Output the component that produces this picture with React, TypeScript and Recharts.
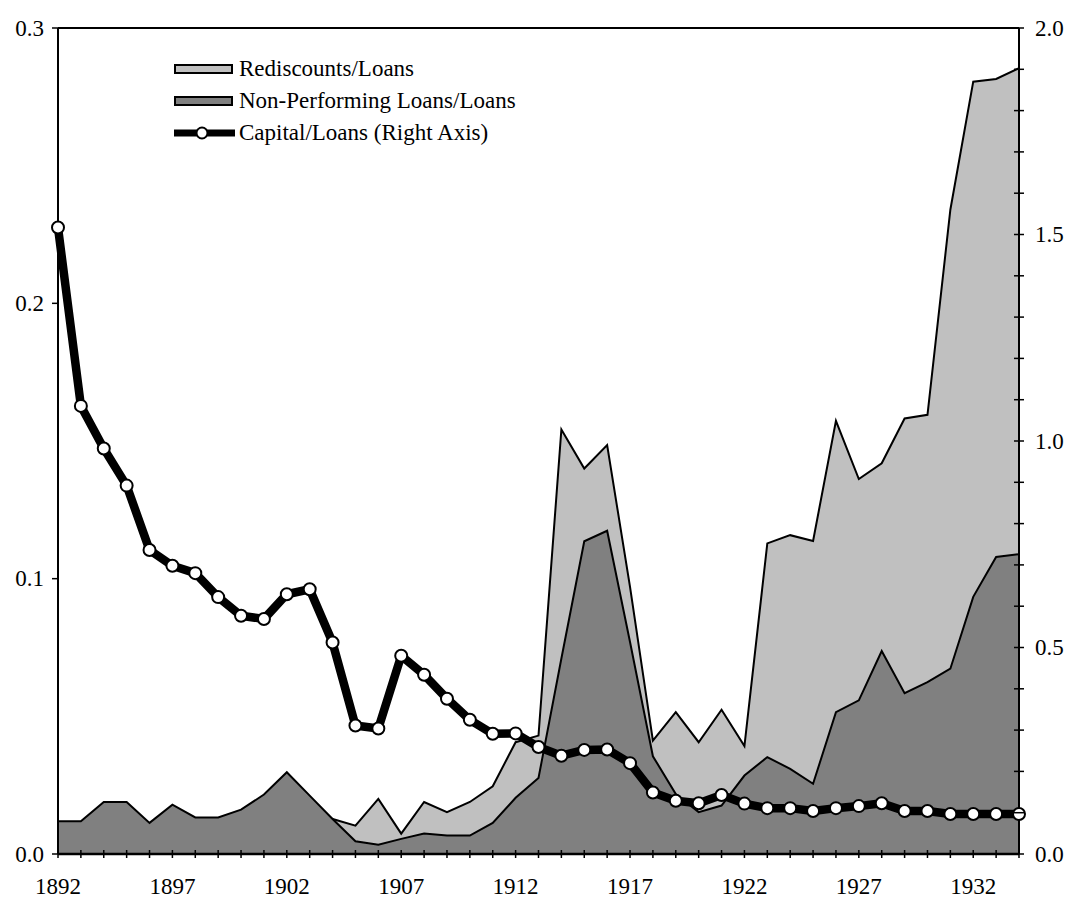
import { Area, ComposedChart, Legend, Line, ReferenceLine, XAxis, YAxis } from "recharts";

const SERIF = '"Liberation Serif", "Times New Roman", serif';

const years = [
  1892, 1893, 1894, 1895, 1896, 1897, 1898, 1899, 1900, 1901, 1902, 1903, 1904, 1905,
  1906, 1907, 1908, 1909, 1910, 1911, 1912, 1913, 1914, 1915, 1916, 1917, 1918, 1919,
  1920, 1921, 1922, 1923, 1924, 1925, 1926, 1927, 1928, 1929, 1930, 1931, 1932, 1933, 1934,
];
const labelYears = [1892, 1897, 1902, 1907, 1912, 1917, 1922, 1927, 1932];

const leftTicks = [0, 0.1, 0.2, 0.3];
const rightTicks = [
  0, 0.1, 0.2, 0.3, 0.4, 0.5, 0.6, 0.7, 0.8, 0.9, 1.0, 1.1, 1.2, 1.3, 1.4, 1.5, 1.6, 1.7,
  1.8, 1.9, 2.0,
];
const rightLabels = [0, 0.5, 1.0, 1.5, 2.0];

// left axis
const rediscounts = [
  0, 0, 0, 0, 0, 0, 0, 0, 0, 0, 0, 0, 0.0127, 0.0103,
  0.02, 0.0074, 0.0189, 0.0152, 0.0189, 0.0246, 0.0406, 0.043, 0.1542, 0.14, 0.1485, 0.097, 0.0412, 0.0515,
  0.0406, 0.0524, 0.0392, 0.1128, 0.1158, 0.1137, 0.1573, 0.1362, 0.1419, 0.1582, 0.1595, 0.234, 0.2805, 0.2815, 0.2854,
];
const nonPerforming = [
  0.0119, 0.0119, 0.0189, 0.0189, 0.0113, 0.0179, 0.0133, 0.0133, 0.0161, 0.0216, 0.0297, 0.0212, 0.0127, 0.0046,
  0.0034, 0.0055, 0.0074, 0.0067, 0.0067, 0.0113, 0.0204, 0.0276, 0.071, 0.1136, 0.1174, 0.077, 0.0355, 0.0218,
  0.0152, 0.0176, 0.0285, 0.0352, 0.0309, 0.0255, 0.0515, 0.0558, 0.0737, 0.0584, 0.0624, 0.0673, 0.0934, 0.1079, 0.1089,
];
// right axis
const capital = [
  1.517, 1.085, 0.982, 0.892, 0.736, 0.698, 0.68, 0.622, 0.577, 0.569, 0.629, 0.641, 0.512, 0.311,
  0.304, 0.48, 0.434, 0.376, 0.325, 0.291, 0.292, 0.259, 0.238, 0.252, 0.253, 0.22, 0.149, 0.129,
  0.123, 0.143, 0.122, 0.111, 0.111, 0.104, 0.111, 0.116, 0.123, 0.104, 0.104, 0.097, 0.097, 0.097, 0.097,
];

const legendLabels = [
  "Rediscounts/Loans",
  "Non-Performing Loans/Loans",
  "Capital/Loans (Right Axis)",
];

const data = years.map((year, i) => ({
  year,
  rediscounts: rediscounts[i],
  nonPerforming: nonPerforming[i],
  capital: capital[i],
}));

function YearTick(props: any) {
  const { x, y, payload } = props;
  const show = labelYears.includes(payload.value);
  return (
    <g>
      <line x1={x} x2={x} y1={y - 4} y2={y + 4} stroke="#000" strokeWidth={1.5} />
      {show && (
        <text x={x} y={y + 40} textAnchor="middle" fontFamily={SERIF} fontSize={23} fill="#000">
          {payload.value}
        </text>
      )}
    </g>
  );
}

function LeftTick(props: any) {
  const { x, y, payload } = props;
  return (
    <g>
      <line x1={x - 6} x2={x} y1={y} y2={y} stroke="#000" strokeWidth={1.5} />
      <text x={x - 14} y={y} dy="0.33em" textAnchor="end" fontFamily={SERIF} fontSize={23} fill="#000">
        {Number(payload.value).toFixed(1)}
      </text>
    </g>
  );
}

function RightTick(props: any) {
  const { x, y, payload } = props;
  const v = Number(payload.value);
  const show = rightLabels.some((l) => Math.abs(l - v) < 1e-6);
  return (
    <g>
      <line x1={x - 5} x2={x + 5} y1={y} y2={y} stroke="#000" strokeWidth={1.5} />
      {show && (
        <text x={x + 16} y={y} dy="0.33em" textAnchor="start" fontFamily={SERIF} fontSize={23} fill="#000">
          {v.toFixed(1)}
        </text>
      )}
    </g>
  );
}

function LegendContent() {
  const row = { display: "flex", alignItems: "center", height: 32, whiteSpace: "nowrap" as const };
  return (
    <div style={{ fontFamily: SERIF, fontSize: 23, color: "#000" }}>
      <div style={row}>
        <svg width={66} height={32}>
          <rect x={3} y={12} width={57} height={8} fill="#c0c0c0" stroke="#000" strokeWidth={2} />
        </svg>
        <span style={{ marginLeft: 1 }}>{legendLabels[0]}</span>
      </div>
      <div style={row}>
        <svg width={66} height={32}>
          <rect x={3} y={12} width={57} height={8} fill="#808080" stroke="#000" strokeWidth={2} />
        </svg>
        <span style={{ marginLeft: 1 }}>{legendLabels[1]}</span>
      </div>
      <div style={row}>
        <svg width={66} height={32}>
          <line x1={2} x2={63} y1={16} y2={16} stroke="#000" strokeWidth={7} />
          <circle cx={30} cy={16} r={5.5} fill="#fff" stroke="#000" strokeWidth={2} />
        </svg>
        <span style={{ marginLeft: 1 }}>{legendLabels[2]}</span>
      </div>
    </div>
  );
}

export default function App() {
  return (
    <div style={{ position: "absolute", left: 0, top: 0, background: "#fff" }}>
      <ComposedChart
        width={1073}
        height={899}
        data={data}
        margin={{ top: 28, right: 0, bottom: 0, left: 0 }}
      >
        <XAxis
          dataKey="year"
          type="number"
          domain={[1892, 1934]}
          ticks={years}
          interval={0}
          height={45}
          tickSize={0}
          tickMargin={0}
          tickLine={false}
          axisLine={{ stroke: "#000", strokeWidth: 2.5 }}
          tick={<YearTick />}
        />
        <YAxis
          yAxisId="left"
          domain={[0, 0.3]}
          ticks={leftTicks}
          interval={0}
          width={58}
          tickSize={0}
          tickMargin={0}
          tickLine={false}
          axisLine={{ stroke: "#000", strokeWidth: 2 }}
          tick={<LeftTick />}
        />
        <YAxis
          yAxisId="right"
          orientation="right"
          domain={[0, 2]}
          ticks={rightTicks}
          interval={0}
          width={54}
          tickSize={0}
          tickMargin={0}
          tickLine={false}
          axisLine={{ stroke: "#000", strokeWidth: 2 }}
          tick={<RightTick />}
        />
        <ReferenceLine yAxisId="left" y={0.3} stroke="#000" strokeWidth={2} />
        <Area
          yAxisId="left"
          type="linear"
          dataKey="rediscounts"
          name={legendLabels[0]}
          fill="#c0c0c0"
          fillOpacity={1}
          stroke="#000"
          strokeWidth={2}
          isAnimationActive={false}
        />
        <Area
          yAxisId="left"
          type="linear"
          dataKey="nonPerforming"
          name={legendLabels[1]}
          fill="#808080"
          fillOpacity={1}
          stroke="#000"
          strokeWidth={2}
          isAnimationActive={false}
        />
        <Line
          yAxisId="right"
          type="linear"
          dataKey="capital"
          name={legendLabels[2]}
          stroke="#000"
          strokeWidth={8.5}
          strokeLinejoin="round"
          dot={{ r: 6, fill: "#fff", stroke: "#000", strokeWidth: 2 }}
          isAnimationActive={false}
        />
        <Legend
          layout="vertical"
          align="center"
          verticalAlign="middle"
          content={<LegendContent />}
          wrapperStyle={{ left: 172, top: 53, width: "auto", right: "auto", bottom: "auto" }}
        />
      </ComposedChart>
    </div>
  );
}
